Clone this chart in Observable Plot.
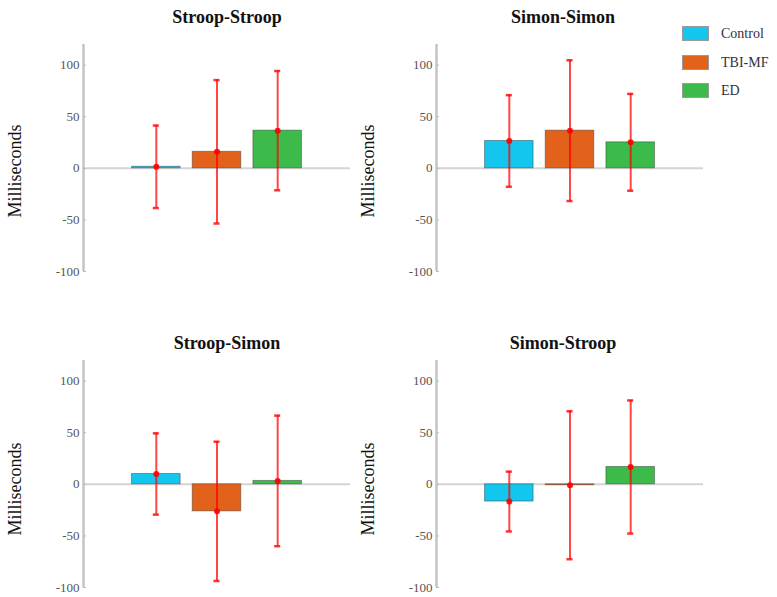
<!DOCTYPE html>
<html><head><meta charset="utf-8">
<script src="https://cdn.jsdelivr.net/npm/d3@7"></script>
<script src="https://cdn.jsdelivr.net/npm/@observablehq/plot@0.6"></script>
<style>
body{margin:0;background:#fff;}
#wrap{position:relative;width:777px;height:597px;font-family:"Liberation Serif",serif;overflow:hidden;}
.panel{position:absolute;}
.panel text{font-family:"Liberation Serif",serif;}
.legend{position:absolute;left:682px;top:26px;}
.li{display:flex;align-items:center;height:15px;margin-bottom:13.5px;}
.sw{width:27px;height:15px;box-sizing:border-box;border:1px solid #9a9a9a;}
.lt{margin-left:12px;font-size:14px;color:#333;line-height:15px;}
</style></head><body><div id="wrap"></div>
<script>
// ---- data ----
const groups = ["Control", "TBI-MF", "ED"];
const groupPos = [1, 2, 3];
const groupColors = ["#12c6ee", "#e2621c", "#3cba4a"];
const panelTitles = ["Stroop-Stroop", "Simon-Simon", "Stroop-Simon", "Simon-Stroop"];
const meansStroopStroop = [1.5, 16, 36.5];
const meansSimonSimon = [26.5, 36.5, 25.2];
const meansStroopSimon = [10, -26.2, 3.3];
const meansSimonStroop = [-16.7, -0.9, 16.8];
const errStroopStroop = [40, 69.5, 57.8];
const errSimonSimon = [44.4, 68.2, 46.9];
const errStroopSimon = [39.4, 67.5, 63.3];
const errSimonStroop = [29, 71.7, 64.5];
const yTicks = [-100, -50, 0, 50, 100];
const yDomain = [-100, 120];
const xDomain = [-0.2, 4.2];
const yLabel = "Milliseconds";

const panelMeans = [meansStroopStroop, meansSimonSimon, meansStroopSimon, meansSimonStroop];
const panelErrs = [errStroopStroop, errSimonSimon, errStroopSimon, errSimonStroop];

// ---- layout ----
const layout = [
  {left: 0, top: 0, tdx: 10, tdy: -22, ldy: 13},
  {left: 353, top: 0, tdx: -7, tdy: -22, ldy: 13},
  {left: 0, top: 316, tdx: 10, tdy: -12, ldy: 15},
  {left: 353, top: 316, tdx: -7, tdy: -12, ldy: 15}
];
const serif = '"Liberation Serif", serif';

const wrap = document.getElementById("wrap");

panelTitles.forEach((title, p) => {
  const data = groups.map((g, i) => ({
    group: g, pos: groupPos[i], color: groupColors[i],
    mean: panelMeans[p][i], lo: panelMeans[p][i] - panelErrs[p][i], hi: panelMeans[p][i] + panelErrs[p][i]
  }));
  const L = layout[p];
  const chart = Plot.plot({
    width: 380, height: 290,
    marginLeft: 83, marginRight: 30, marginTop: 44, marginBottom: 19,
    style: {fontFamily: serif, fontSize: "13px", color: "#555", background: "none", overflow: "visible"},
    x: {domain: xDomain, axis: null},
    y: {domain: yDomain},
    marks: [
      Plot.ruleY([0], {stroke: "#d4d4d4", strokeWidth: 2}),
      Plot.ruleX([xDomain[0]], {stroke: "#c4c4c4", strokeWidth: 2.5}),
      Plot.ruleY(yTicks, {x1: xDomain[0], x2: xDomain[0] + 0.05, stroke: "#bbb", strokeWidth: 1}),
      Plot.axisY({ticks: yTicks, tickSize: 0, tickPadding: 4, label: null, tickFormat: d => String(d), fontFamily: serif, fontSize: 13, fill: "#555"}),
      Plot.rect(data, {x1: d => d.pos - 0.4, x2: d => d.pos + 0.4, y1: 0, y2: "mean", fill: "color", stroke: "#333", strokeOpacity: 0.45, strokeWidth: 1}),
      Plot.ruleX(data, {x: "pos", y1: "lo", y2: "hi", stroke: "#ff0000", strokeOpacity: 0.72, strokeWidth: 2}),
      Plot.ruleY(data, {y: "hi", x1: d => d.pos - 0.05, x2: d => d.pos + 0.05, stroke: "#ff0000", strokeOpacity: 0.8, strokeWidth: 2.5}),
      Plot.ruleY(data, {y: "lo", x1: d => d.pos - 0.05, x2: d => d.pos + 0.05, stroke: "#ff0000", strokeOpacity: 0.8, strokeWidth: 2.5}),
      Plot.dot(data, {x: "pos", y: "mean", r: 3, fill: "#ff0000", fillOpacity: 0.9}),
      Plot.text([title], {frameAnchor: "top", lineAnchor: "bottom", dx: L.tdx, dy: L.tdy, fontSize: 18, fontWeight: "bold", fill: "#111", fontFamily: serif}),
      Plot.text([yLabel], {frameAnchor: "left", textAnchor: "middle", rotate: -90, dx: -68, dy: L.ldy, fontSize: 18, fill: "#111", fontFamily: serif})
    ]
  });
  chart.classList.add("panel");
  chart.style.left = L.left + "px";
  chart.style.top = L.top + "px";
  chart.style.position = "absolute";
  wrap.appendChild(chart);
});

// legend
const legend = document.createElement("div");
legend.className = "legend";
groups.forEach((g, i) => {
  const row = document.createElement("div");
  row.className = "li";
  const sw = document.createElement("div");
  sw.className = "sw";
  sw.style.background = groupColors[i];
  const t = document.createElement("div");
  t.className = "lt";
  t.textContent = g;
  row.appendChild(sw); row.appendChild(t);
  legend.appendChild(row);
});
wrap.appendChild(legend);
</script></body></html>
